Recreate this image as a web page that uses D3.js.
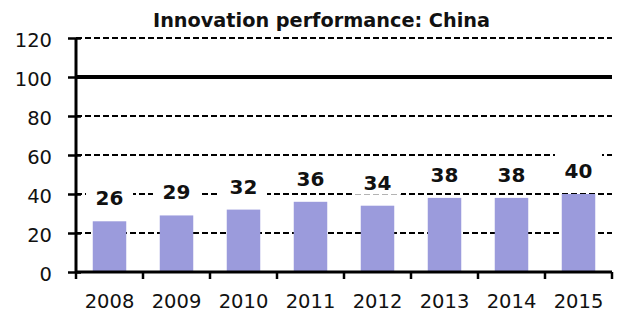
<!DOCTYPE html>
<html><head><meta charset="utf-8">
<script src="https://cdn.jsdelivr.net/npm/d3@7"></script>
<style>body{margin:0;background:#fff}svg{display:block}</style>
</head><body>
<script>
const years = ["2008","2009","2010","2011","2012","2013","2014","2015"];
const values = [26, 29, 32, 36, 34, 38, 38, 40];
const yTicks = [0, 20, 40, 60, 80, 100, 120];
const dashedGrid = [20, 40, 60, 80, 120];
const refLine = [100];
const title = "Innovation performance: China";

const W = 620, H = 322;
const svg = d3.select("body").append("svg").attr("width", W).attr("height", H);
const x = d3.scaleBand().domain(years).range([76, 612]).paddingInner(0.5).paddingOuter(0.25);
const y = d3.scaleLinear().domain([0, 120]).range([272, 38]);
const font = "DejaVu Sans, Verdana, sans-serif";

// title
svg.append("text").attr("x", 321.5).attr("y", 27).attr("text-anchor", "middle")
  .attr("font-family", font).attr("font-weight", "bold").attr("font-size", 19)
  .attr("textLength", 337).attr("lengthAdjust", "spacingAndGlyphs")
  .attr("fill", "#111").text(title);

// grid
svg.append("g").selectAll("line").data(dashedGrid).join("line")
  .attr("x1", 76).attr("x2", 612).attr("y1", d => y(d)).attr("y2", d => y(d))
  .attr("stroke", "#000").attr("stroke-width", 2).attr("stroke-dasharray", "6,3");
svg.append("g").selectAll("line").data(refLine).join("line")
  .attr("x1", 76).attr("x2", 612).attr("y1", d => y(d)).attr("y2", d => y(d))
  .attr("stroke", "#000").attr("stroke-width", 4);

// bars
svg.append("g").selectAll("rect").data(values).join("rect")
  .attr("x", (d, i) => x(years[i])).attr("width", x.bandwidth())
  .attr("y", d => y(d)).attr("height", d => y(0) - y(d))
  .attr("fill", "#9b9bdc");

// labels with white boxes
const lg = svg.append("g");
lg.selectAll("rect").data(values).join("rect")
  .attr("x", (d, i) => x(years[i]) + x.bandwidth() / 2 - 23.5).attr("width", 47)
  .attr("y", d => y(d) - 16 - 24).attr("height", 29)
  .attr("fill", "#fff");
lg.selectAll("text").data(values).join("text")
  .attr("x", (d, i) => x(years[i]) + x.bandwidth() / 2)
  .attr("y", d => y(d) - 16).attr("text-anchor", "middle")
  .attr("font-family", font).attr("font-weight", "bold").attr("font-size", 20)
  .attr("fill", "#111").text(d => d);

// y axis
const ya = svg.append("g").attr("transform", "translate(76,0)")
  .call(d3.axisLeft(y).tickValues(yTicks).tickSizeInner(8).tickSizeOuter(0).tickPadding(16));
ya.select(".domain").attr("stroke-width", 3).attr("d", `M0,${y(120)}V${y(0)}`);
ya.selectAll(".tick line").attr("x1", 5).attr("x2", -8).attr("stroke-width", 2.5);
ya.selectAll(".tick text").attr("font-family", font).attr("font-size", 19.5)
  .attr("fill", "#111").attr("dy", "0.45em");

// x axis
const xa = svg.append("g").attr("transform", `translate(0,${y(0)})`)
  .call(d3.axisBottom(x).tickSize(0).tickPadding(36));
xa.select(".domain").attr("stroke-width", 3).attr("d", "M76,0H612");
xa.selectAll(".tick text").attr("font-family", font).attr("font-size", 19.5).attr("fill", "#111").attr("dy", 0);
const bounds = years.map(yr => x(yr) - x.step() * x.paddingInner() / 2).concat([612]);
xa.append("g").selectAll("line").data(bounds).join("line")
  .attr("x1", d => d).attr("x2", d => d).attr("y1", 0).attr("y2", 7)
  .attr("stroke", "#000").attr("stroke-width", 2.5);
</script>
</body></html>
